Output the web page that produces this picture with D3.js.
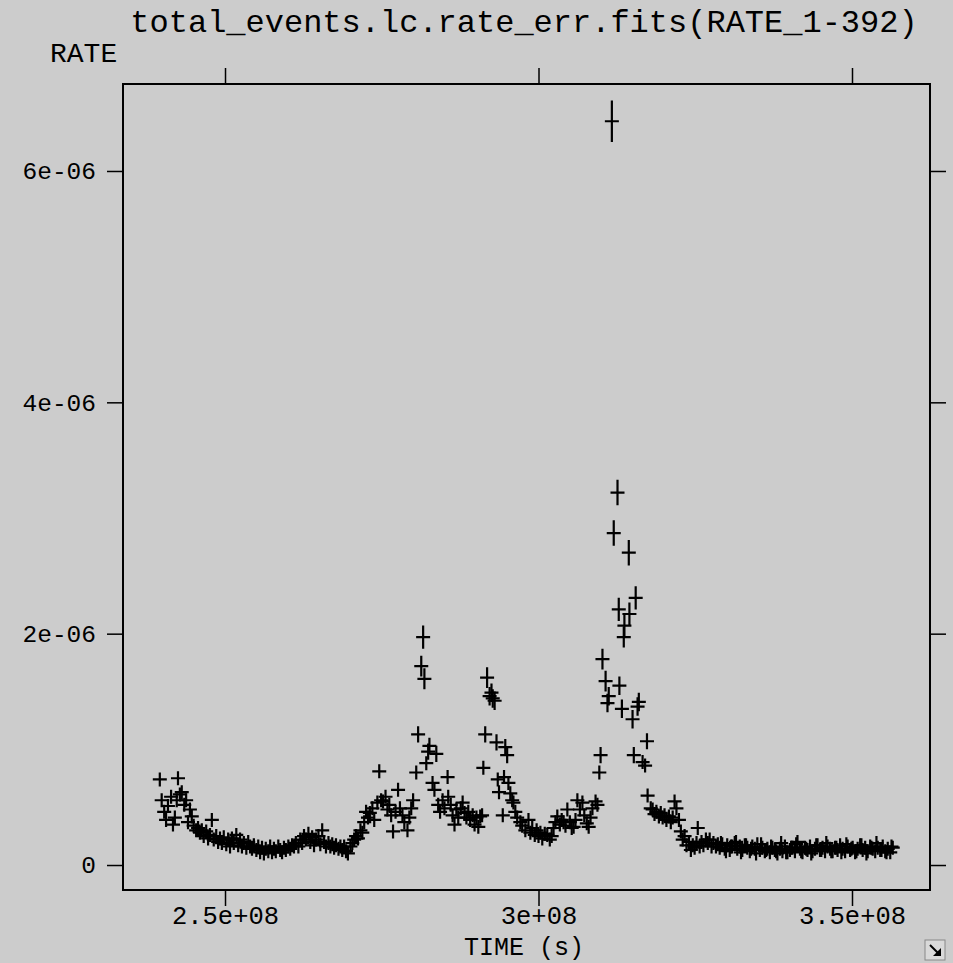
<!DOCTYPE html>
<html>
<head>
<meta charset="utf-8">
<script src="https://cdn.jsdelivr.net/npm/d3@7.9.0/dist/d3.min.js"></script>
<style>
  html, body { margin: 0; padding: 0; background: #cccccc; }
  svg { display: block; }
  text { font-family: "Liberation Mono", "DejaVu Sans Mono", monospace; fill: #000; }
</style>
</head>
<body>
<svg id="chart" width="953" height="963"></svg>
<script>
const title = 'total_events.lc.rate_err.fits(RATE_1-392)';
const xLabel = 'TIME (s)';
const yLabel = 'RATE';
const xTicks = [2.5e8, 3e8, 3.5e8];
const xTickLabels = ['2.5e+08', '3e+08', '3.5e+08'];
const yTicks = [0, 2e-6, 4e-6, 6e-6];
const yTickLabels = ['0', '2e-06', '4e-06', '6e-06'];

// TIME in units of 1e6 s, RATE and RATE error in units of 1e-6
const TIME_UNIT = 1e6;
const RATE_UNIT = 1e-6;

const time = [
  239.6, 239.9, 240.3, 240.6, 240.9, 241.4, 241.7, 242.0, 242.3, 242.5,
  242.8, 243.1, 243.5, 243.8, 244.1, 244.4, 244.7, 245.0, 245.4, 245.7,
  246.0, 246.3, 246.6, 247.0, 247.3, 247.6, 247.9, 248.2, 248.6, 248.9,
  249.2, 249.5, 249.8, 250.2, 250.5, 250.8, 251.1, 251.4, 251.8, 252.1,
  252.4, 252.7, 253.0, 253.4, 253.7, 254.0, 254.3, 254.6, 255.0, 255.3,
  255.6, 255.9, 256.2, 256.5, 256.9, 257.2, 257.5, 257.8, 258.1, 258.5,
  258.8, 259.1, 259.4, 259.7, 260.1, 260.4, 260.7, 261.0, 261.3, 261.7,
  262.0, 262.3, 262.6, 262.9, 263.3, 263.6, 263.9, 264.2, 264.5, 264.9,
  265.2, 265.5, 265.8, 266.1, 266.5, 266.8, 267.1, 267.4, 267.7, 268.1,
  268.4, 268.7, 269.0, 269.3, 269.6, 270.0, 270.3, 270.6, 270.9, 271.2,
  271.6, 271.9, 272.2, 272.5, 272.8, 273.1, 273.5, 273.8, 274.3, 274.6,
  274.9, 275.2, 275.6, 275.9, 276.2, 276.5, 276.8, 277.2, 277.6, 277.9,
  278.3, 278.6, 279.1, 279.4, 279.7, 280.0, 280.5, 280.8, 281.3, 281.6,
  281.8, 282.1, 282.4, 282.6, 283.1, 283.4, 283.7, 284.0, 284.3, 284.7,
  285.0, 285.5, 285.6, 286.0, 286.3, 286.6, 286.9, 287.2, 287.6, 287.9,
  288.2, 288.5, 288.8, 289.1, 289.5, 289.8, 290.1, 290.4, 290.7, 291.0,
  291.2, 291.5, 291.8, 292.2, 292.5, 292.7, 293.0, 293.3, 293.5, 293.7,
  294.3, 294.5, 294.7, 295.0, 295.2, 295.5, 295.8, 296.0, 296.3, 296.6,
  297.1, 297.4, 297.9, 298.4, 298.7, 299.0, 299.4, 299.7, 300.0, 300.3,
  300.6, 301.0, 301.4, 301.8, 302.1, 302.4, 302.7, 303.0, 303.4, 303.7,
  304.0, 304.3, 304.6, 305.0, 305.3, 305.6, 305.9, 306.2, 306.6, 307.0,
  307.3, 307.7, 308.0, 308.3, 308.6, 309.1, 309.4, 309.7, 309.9, 310.2,
  310.7, 311.0, 311.2, 311.7, 312.0, 312.6, 312.8, 312.9, 313.3, 313.6,
  313.7, 314.4, 314.5, 315.0, 315.2, 315.5, 315.8, 316.0, 316.6, 317.0,
  317.3, 317.4, 317.9, 318.2, 318.5, 318.8, 319.2, 319.5, 319.8, 320.1,
  320.4, 320.8, 321.1, 321.4, 321.7, 322.0, 322.4, 322.7, 323.0, 323.3,
  323.6, 324.0, 324.3, 324.6, 324.9, 325.2, 325.4, 325.7, 326.0, 326.3,
  326.7, 327.0, 327.3, 327.6, 327.9, 328.3, 328.6,
  328.9, 329.3, 329.7, 330.1, 330.5, 330.9, 331.3, 331.7, 332.1, 332.5,
  332.9, 333.3, 333.7, 334.1, 334.5, 334.9, 335.3, 335.7, 336.1, 336.5,
  336.9, 337.3, 337.7, 338.1, 338.5, 338.9, 339.3, 339.7, 340.1, 340.5,
  340.9, 341.3, 341.7, 342.1, 342.5, 342.9, 343.3, 343.7, 344.1, 344.5,
  344.9, 345.3, 345.7, 346.1, 346.5, 346.9, 347.3, 347.7, 348.1, 348.5,
  348.9, 349.3, 349.7, 350.1, 350.5, 350.9, 351.3, 351.7, 352.1, 352.5,
  352.9, 353.3, 353.7, 354.1, 354.5, 354.9, 355.3, 355.7, 356.1, 356.5,
  329.1, 329.9, 330.7, 331.5, 332.3, 333.1, 333.9, 334.7, 335.5, 336.3,
  337.1, 337.9, 338.7, 339.5, 340.3, 341.1, 341.9, 342.7, 343.5, 344.3,
  345.1, 345.9, 346.7, 347.5, 348.3, 349.1, 349.9, 350.7, 351.5, 352.3,
  353.1, 353.9, 354.7, 355.5, 356.3
];

const rate = [
  0.74, 0.56, 0.46, 0.39, 0.51, 0.59, 0.35, 0.41, 0.56, 0.75,
  0.61, 0.63, 0.52, 0.56, 0.37, 0.48, 0.42, 0.34, 0.30, 0.32,
  0.28, 0.30, 0.25, 0.29, 0.23, 0.26, 0.39, 0.22, 0.25, 0.20,
  0.23, 0.19, 0.24, 0.18, 0.22, 0.16, 0.23, 0.19, 0.26, 0.17,
  0.22, 0.16, 0.19, 0.15, 0.20, 0.16, 0.14, 0.17, 0.13, 0.16,
  0.11, 0.15, 0.10, 0.14, 0.12, 0.16, 0.11, 0.14, 0.12, 0.16,
  0.13, 0.11, 0.15, 0.13, 0.16, 0.14, 0.17, 0.16, 0.19, 0.16,
  0.22, 0.19, 0.25, 0.22, 0.27, 0.20, 0.24, 0.17, 0.22, 0.25,
  0.18, 0.30, 0.20, 0.16, 0.19, 0.16, 0.18, 0.15, 0.17, 0.14,
  0.16, 0.13, 0.16, 0.12, 0.10, 0.16, 0.19, 0.22, 0.25, 0.23,
  0.30, 0.28, 0.37, 0.46, 0.41, 0.45, 0.49, 0.39, 0.54, 0.81,
  0.56, 0.55, 0.59, 0.48, 0.52, 0.43, 0.29, 0.46, 0.65, 0.49,
  0.43, 0.37, 0.30, 0.41, 0.49, 0.56, 0.80, 1.13, 1.72, 1.97,
  1.61, 0.88, 0.98, 1.03, 0.71, 0.65, 0.96, 0.52, 0.46, 0.56,
  0.49, 0.76, 0.59, 0.52, 0.43, 0.35, 0.48, 0.41, 0.49, 0.54,
  0.45, 0.41, 0.46, 0.39, 0.43, 0.35, 0.41, 0.33, 0.42, 0.43,
  0.84, 1.13, 1.62, 1.46, 1.49, 1.44, 1.42, 1.06, 0.74, 0.63,
  0.43, 0.76, 1.02, 0.95, 0.71, 0.62, 0.56, 0.54, 0.46, 0.41,
  0.37, 0.34, 0.30, 0.39, 0.28, 0.32, 0.26, 0.30, 0.25, 0.28,
  0.23, 0.27, 0.26, 0.22, 0.25, 0.32, 0.37, 0.42, 0.35, 0.39,
  0.37, 0.34, 0.48, 0.37, 0.32, 0.33, 0.39, 0.56, 0.48, 0.54,
  0.43, 0.36, 0.33, 0.41, 0.49, 0.55, 0.52, 0.80, 0.95, 1.78,
  1.59, 1.40, 1.46, 6.43, 2.87, 3.22, 2.21, 1.55, 1.35, 1.97,
  2.07, 2.70, 2.17, 1.26, 0.95, 2.31, 1.37, 1.41, 0.89, 0.86,
  1.07, 0.60, 0.49, 0.48, 0.44, 0.46, 0.42, 0.45, 0.41, 0.43,
  0.39, 0.42, 0.37, 0.41, 0.55, 0.49, 0.39, 0.29, 0.22, 0.25,
  0.17, 0.20, 0.13, 0.17, 0.15, 0.19, 0.32, 0.16, 0.20, 0.17,
  0.22, 0.19, 0.22, 0.16, 0.19, 0.16, 0.18,
  0.15, 0.18, 0.14, 0.17, 0.13, 0.16, 0.19, 0.14, 0.16, 0.13,
  0.17, 0.15, 0.12, 0.16, 0.14, 0.18, 0.13, 0.15, 0.12, 0.14,
  0.11, 0.15, 0.13, 0.10, 0.14, 0.12, 0.16, 0.11, 0.13, 0.15,
  0.12, 0.20, 0.14, 0.11, 0.15, 0.13, 0.16, 0.12, 0.14, 0.17,
  0.13, 0.15, 0.12, 0.16, 0.14, 0.12, 0.15, 0.13, 0.17, 0.14,
  0.12, 0.16, 0.13, 0.15, 0.11, 0.14, 0.17, 0.13, 0.15, 0.12,
  0.16, 0.14, 0.12, 0.15, 0.13, 0.16, 0.12, 0.14, 0.11, 0.15,
  0.19, 0.12, 0.16, 0.20, 0.11, 0.17, 0.14, 0.10, 0.18, 0.13,
  0.16, 0.12, 0.19, 0.11, 0.15, 0.18, 0.12, 0.14, 0.10, 0.17,
  0.13, 0.19, 0.12, 0.15, 0.11, 0.18, 0.14, 0.12, 0.17, 0.10,
  0.15, 0.19, 0.13, 0.11, 0.16
];

const rateErr = [
  0.06, 0.05, 0.05, 0.04, 0.05, 0.05, 0.04, 0.04, 0.05, 0.06,
  0.05, 0.05, 0.05, 0.05, 0.04, 0.05, 0.04, 0.04, 0.04, 0.04,
  0.04, 0.04, 0.03, 0.04, 0.03, 0.03, 0.04, 0.03, 0.03, 0.03,
  0.03, 0.03, 0.03, 0.03, 0.03, 0.03, 0.03, 0.03, 0.03, 0.03,
  0.03, 0.03, 0.03, 0.03, 0.03, 0.03, 0.03, 0.03, 0.03, 0.03,
  0.02, 0.03, 0.02, 0.03, 0.02, 0.03, 0.02, 0.03, 0.02, 0.03,
  0.02, 0.02, 0.03, 0.02, 0.03, 0.03, 0.03, 0.03, 0.03, 0.03,
  0.03, 0.03, 0.03, 0.03, 0.03, 0.03, 0.03, 0.03, 0.03, 0.03,
  0.03, 0.04, 0.03, 0.03, 0.03, 0.03, 0.03, 0.03, 0.03, 0.03,
  0.03, 0.02, 0.03, 0.02, 0.02, 0.03, 0.03, 0.03, 0.03, 0.03,
  0.04, 0.04, 0.04, 0.05, 0.04, 0.05, 0.05, 0.04, 0.05, 0.06,
  0.05, 0.05, 0.05, 0.05, 0.05, 0.04, 0.04, 0.05, 0.05, 0.05,
  0.04, 0.04, 0.04, 0.04, 0.05, 0.05, 0.06, 0.07, 0.09, 0.10,
  0.09, 0.06, 0.07, 0.07, 0.06, 0.05, 0.07, 0.05, 0.05, 0.05,
  0.05, 0.06, 0.05, 0.05, 0.04, 0.04, 0.05, 0.04, 0.05, 0.05,
  0.05, 0.04, 0.05, 0.04, 0.04, 0.04, 0.04, 0.04, 0.04, 0.04,
  0.06, 0.07, 0.09, 0.08, 0.08, 0.08, 0.08, 0.07, 0.06, 0.05,
  0.04, 0.06, 0.07, 0.07, 0.06, 0.05, 0.05, 0.05, 0.05, 0.04,
  0.04, 0.04, 0.04, 0.04, 0.04, 0.04, 0.03, 0.04, 0.03, 0.04,
  0.03, 0.04, 0.03, 0.03, 0.03, 0.04, 0.04, 0.04, 0.04, 0.04,
  0.04, 0.04, 0.05, 0.04, 0.04, 0.04, 0.04, 0.05, 0.05, 0.05,
  0.04, 0.04, 0.04, 0.04, 0.05, 0.05, 0.05, 0.06, 0.07, 0.09,
  0.09, 0.08, 0.08, 0.18, 0.11, 0.11, 0.10, 0.08, 0.08, 0.09,
  0.10, 0.11, 0.10, 0.08, 0.07, 0.10, 0.08, 0.08, 0.06, 0.06,
  0.07, 0.05, 0.05, 0.05, 0.04, 0.05, 0.04, 0.05, 0.04, 0.04,
  0.04, 0.04, 0.04, 0.04, 0.05, 0.05, 0.04, 0.04, 0.03, 0.03,
  0.03, 0.03, 0.02, 0.03, 0.03, 0.03, 0.04, 0.03, 0.03, 0.03,
  0.03, 0.03, 0.03, 0.03, 0.03, 0.03, 0.03,
  0.03, 0.03, 0.02, 0.03, 0.02, 0.03, 0.03, 0.02, 0.03, 0.02,
  0.03, 0.03, 0.02, 0.03, 0.02, 0.03, 0.02, 0.03, 0.02, 0.02,
  0.02, 0.03, 0.02, 0.02, 0.02, 0.02, 0.03, 0.02, 0.02, 0.03,
  0.02, 0.03, 0.02, 0.02, 0.03, 0.02, 0.03, 0.02, 0.02, 0.03,
  0.02, 0.03, 0.02, 0.03, 0.02, 0.02, 0.03, 0.02, 0.03, 0.02,
  0.02, 0.03, 0.02, 0.03, 0.02, 0.02, 0.03, 0.02, 0.03, 0.02,
  0.03, 0.02, 0.02, 0.03, 0.02, 0.03, 0.02, 0.02, 0.02, 0.03,
  0.03, 0.02, 0.03, 0.03, 0.02, 0.03, 0.02, 0.02, 0.03, 0.02,
  0.03, 0.02, 0.03, 0.02, 0.03, 0.03, 0.02, 0.02, 0.02, 0.03,
  0.02, 0.03, 0.02, 0.03, 0.02, 0.03, 0.02, 0.02, 0.03, 0.02,
  0.03, 0.03, 0.02, 0.02, 0.03
];

const points = time.map((t, i) => ({
  t: t * TIME_UNIT,
  r: rate[i] * RATE_UNIT,
  e: rateErr[i] * RATE_UNIT
}));

// plot frame
const frameLeft = 123, frameRight = 930, frameTop = 84, frameBottom = 890;
const ARM = 7;
const FONT = '"Liberation Mono", "DejaVu Sans Mono", monospace';

const svg = d3.select('#chart');

svg.append('rect')
  .attr('width', 953).attr('height', 963)
  .attr('fill', '#cccccc');

const x = d3.scaleLinear().domain([2.3373e8, 3.6244e8]).range([frameLeft, frameRight]);
const y = d3.scaleLinear().domain([-0.216e-6, 6.752e-6]).range([frameBottom, frameTop]);

function styleAxis(size) {
  return g => {
    g.select('.domain').remove();
    g.selectAll('.tick line').attr('stroke', '#000').attr('stroke-width', 1.5);
    g.attr('font-family', FONT).attr('font-size', size);
    g.selectAll('.tick text').attr('fill', '#000');
  };
}

svg.append('g')
  .attr('transform', `translate(0,${frameBottom})`)
  .call(d3.axisBottom(x).tickValues(xTicks).tickSize(16).tickPadding(0)
    .tickFormat((d, i) => xTickLabels[i]))
  .call(styleAxis(25.5));

svg.append('g')
  .attr('transform', `translate(0,${frameTop})`)
  .call(d3.axisTop(x).tickValues(xTicks).tickSize(16).tickFormat(''))
  .call(styleAxis(26));

svg.append('g')
  .attr('transform', `translate(${frameLeft},0)`)
  .call(d3.axisLeft(y).tickValues(yTicks).tickSize(16).tickPadding(11)
    .tickFormat((d, i) => yTickLabels[i]))
  .call(styleAxis(24.5));

svg.append('g')
  .attr('transform', `translate(${frameRight},0)`)
  .call(d3.axisRight(y).tickValues(yTicks).tickSize(16).tickFormat(''))
  .call(styleAxis(26));

svg.append('rect')
  .attr('x', frameLeft).attr('y', frameTop)
  .attr('width', frameRight - frameLeft).attr('height', frameBottom - frameTop)
  .attr('fill', 'none').attr('stroke', '#000').attr('stroke-width', 2);

// error-bar crosses
const marks = svg.append('g')
  .attr('stroke', '#000').attr('stroke-width', 2.2).attr('fill', 'none');

marks.selectAll('path')
  .data(points)
  .join('path')
  .attr('d', d => {
    const cx = x(d.t), cy = y(d.r);
    const hi = Math.min(y(d.r + d.e), cy - ARM);
    const lo = Math.max(y(d.r - d.e), cy + ARM);
    return `M${cx - ARM},${cy}H${cx + ARM}M${cx},${hi}V${lo}`;
  });

// texts
svg.append('text')
  .attr('x', 524).attr('y', 32)
  .attr('text-anchor', 'middle')
  .attr('font-size', 32)
  .text(title);

svg.append('text')
  .attr('x', 50).attr('y', 62)
  .attr('font-size', 28)
  .text(yLabel);

svg.append('text')
  .attr('x', 524).attr('y', 955)
  .attr('text-anchor', 'middle')
  .attr('font-size', 25)
  .text(xLabel);

// resize handle in the corner
const handle = svg.append('g').attr('transform', 'translate(925,940)');
handle.append('rect')
  .attr('width', 20).attr('height', 20)
  .attr('fill', '#d9d9d9').attr('stroke', '#888').attr('stroke-width', 1);
handle.append('path')
  .attr('d', 'M5,5L14,14')
  .attr('stroke', '#000').attr('stroke-width', 2);
handle.append('path')
  .attr('d', 'M16,16L16,8L8,16Z')
  .attr('fill', '#000');
</script>
</body>
</html>
